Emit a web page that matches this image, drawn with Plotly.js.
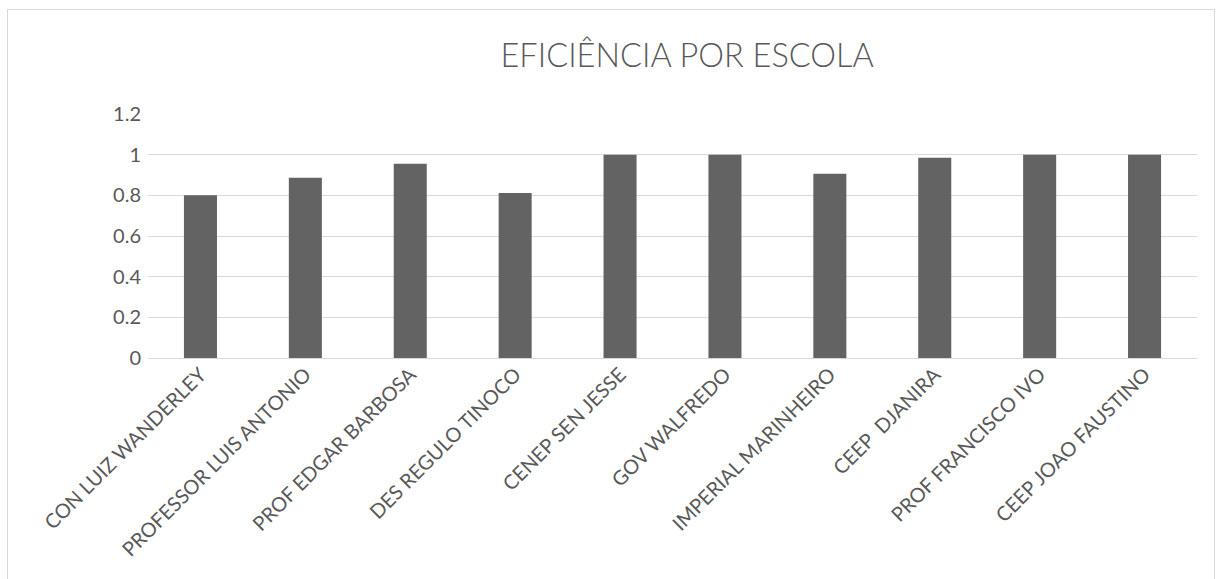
<!DOCTYPE html>
<html>
<head>
<meta charset="utf-8">
<script src="https://cdn.plot.ly/plotly-3.0.1.min.js"></script>
<style>
html,body{margin:0;padding:0;background:#fff;overflow:hidden;}
#chart{position:absolute;left:0;top:0;width:1221px;height:579px;}
#frame{position:absolute;left:7px;top:9px;width:1208px;height:620px;border:1px solid #d9d9d9;pointer-events:none;box-sizing:border-box;}
</style>
</head>
<body>
<div id="chart"></div>
<div id="frame"></div>
<script>
const categories = ["CON LUIZ WANDERLEY","PROFESSOR LUIS ANTONIO","PROF EDGAR BARBOSA","DES REGULO TINOCO","CENEP SEN JESSE","GOV WALFREDO","IMPERIAL MARINHEIRO","CEEP  DJANIRA","PROF FRANCISCO IVO","CEEP JOAO FAUSTINO"];
const eficiencia = [0.80, 0.886, 0.955, 0.812, 1, 1, 0.906, 0.985, 1, 1];
const titleText = "EFICIÊNCIA POR ESCOLA";

const trace = {
  type: "bar",
  x: categories,
  y: eficiencia,
  marker: {color: "#636363"},
  hoverinfo: "x+y"
};

const layout = {
  width: 1221,
  height: 579,
  margin: {l: 148, r: 24, t: 114, b: 221},
  paper_bgcolor: "#fff",
  plot_bgcolor: "#fff",
  bargap: 0.685,
  showlegend: false,
  font: {family: "Lato, Carlito, sans-serif", color: "#595959", size: 20},
  title: {
    text: titleText,
    font: {family: "Lato, Carlito, sans-serif", size: 32.5, color: "#595959", weight: 300},
    x: 0.514, xref: "paper", xanchor: "center",
    y: 1 - 56 / 579, yref: "container", yanchor: "middle"
  },
  xaxis: {
    type: "category",
    tickangle: -45,
    showgrid: false,
    showline: false,
    ticks: "",
    tickfont: {size: 20, color: "#595959"},
    automargin: false
  },
  yaxis: {
    range: [0, 1.2],
    dtick: 0.2,
    tick0: 0,
    showgrid: true,
    gridcolor: "#d9d9d9",
    gridwidth: 1,
    zeroline: true,
    zerolinecolor: "#d9d9d9",
    zerolinewidth: 1,
    showline: false,
    ticks: "",
    ticklabelstandoff: 6,
    tickfont: {size: 20, color: "#595959"},
    automargin: false
  }
};

Plotly.newPlot("chart", [trace], layout, {staticPlot: true, displayModeBar: false});
</script>
</body>
</html>
